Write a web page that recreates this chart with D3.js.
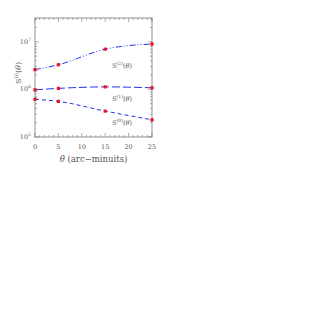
<!DOCTYPE html>
<html>
<head>
<meta charset="utf-8">
<script src="https://cdn.jsdelivr.net/npm/d3@7"></script>
<style>
  body { margin: 0; background: #fff; }
  text { font-family: "DejaVu Serif", "Liberation Serif", serif; fill: #555; }
</style>
</head>
<body>
<svg id="chart" width="327" height="327"></svg>
<script>
// values
var theta = [0, 5, 15, 25];
var s2 = [2.6e6, 3.3e6, 7.0e6, 9.0e6];
var s1 = [0.98e6, 1.05e6, 1.13e6, 1.08e6];
var s0 = [6.2e5, 5.6e5, 3.5e5, 2.3e5];
var seriesNames = ["2", "1", "0"];
var xTicks = [0, 5, 10, 15, 20, 25];
var yTicks = [1e5, 1e6, 1e7];

var svg = d3.select("#chart"),
    margin = {top: 18, left: 35, right: 175, bottom: 190},
    width = 327 - margin.left - margin.right,
    height = 327 - margin.top - margin.bottom,
    g = svg.append("g").attr("transform", "translate(" + margin.left + "," + margin.top + ")");

var x = d3.scaleLinear().domain([0, 25]).range([0, width]);
var y = d3.scaleLog().domain([1e5, Math.pow(10, 7.5)]).range([height, 0]);

var axisColor = "#777";

// frame
g.append("rect")
    .attr("width", width).attr("height", height)
    .attr("fill", "none").attr("stroke", axisColor).attr("stroke-width", 0.8);

// x ticks (bottom and top, inward)
var xMinor = d3.range(0, 26);
g.selectAll(".xt").data(xMinor).enter().append("path")
    .attr("stroke", axisColor).attr("stroke-width", 0.6)
    .attr("d", function(d) {
      var len = d % 5 === 0 ? 4 : 2;
      return "M" + x(d) + "," + height + "v" + (-len) + "M" + x(d) + ",0v" + len;
    });

// y ticks (left and right, inward)
var yMinor = [];
[1e5, 1e6, 1e7].forEach(function(dec) {
  for (var k = 1; k < 10; k++) if (dec * k <= y.domain()[1]) yMinor.push(dec * k);
});
g.selectAll(".yt").data(yMinor).enter().append("path")
    .attr("stroke", axisColor).attr("stroke-width", 0.6)
    .attr("d", function(d) {
      var len = yTicks.indexOf(d) >= 0 ? 4 : 2;
      return "M0," + y(d) + "h" + len + "M" + width + "," + y(d) + "h" + (-len);
    });

// tick labels
g.selectAll(".xl").data(xTicks).enter().append("text")
    .attr("x", function(d) { return x(d); })
    .attr("y", height + 12)
    .attr("text-anchor", "middle")
    .attr("font-size", 6.5)
    .text(function(d) { return d; });

var yl = g.selectAll(".yl").data(yTicks).enter().append("text")
    .attr("x", -4)
    .attr("y", function(d) { return y(d) + 2; })
    .attr("text-anchor", "end")
    .attr("font-size", 6.5);
yl.append("tspan").text("10");
yl.append("tspan").attr("font-size", 4.5).attr("dy", -3)
    .text(function(d) { return Math.round(Math.log10(d)); });

// axis titles
g.append("text")
    .attr("x", width / 2).attr("y", height + 25)
    .attr("text-anchor", "middle").attr("font-size", 8.5)
    .html("<tspan font-style='italic'>θ</tspan> (arc−minuits)");

var yt = g.append("text")
    .attr("transform", "translate(-14," + 55 + ") rotate(-90)")
    .attr("text-anchor", "middle").attr("font-size", 8);
yt.append("tspan").text("S");
yt.append("tspan").attr("font-size", 5).attr("dy", -3).text("(i)");
yt.append("tspan").attr("dy", 3).html("(<tspan font-style='italic'>θ</tspan>)");

// curves
var line = d3.line()
    .x(function(d) { return x(d[0]); })
    .y(function(d) { return y(d[1]); })
    .curve(d3.curveMonotoneX);

var series = [
  {vals: s2, dash: "6,2,1,2,1,2", name: seriesNames[0], lx: 18.6, ly: 6.45},
  {vals: s1, dash: "8,3", name: seriesNames[1], lx: 18.6, ly: 5.76},
  {vals: s0, dash: "4,3", name: seriesNames[2], lx: 18.6, ly: 5.25}
];

series.forEach(function(s) {
  var pts = theta.map(function(t, i) { return [t, s.vals[i]]; });
  g.append("path")
      .datum(pts)
      .attr("fill", "none")
      .attr("stroke", "#2233ee")
      .attr("stroke-width", 1)
      .attr("stroke-dasharray", s.dash)
      .attr("d", line);
  g.selectAll(null).data(pts).enter().append("rect")
      .attr("x", function(d) { return x(d[0]) - 1.6; })
      .attr("y", function(d) { return y(d[1]) - 1.6; })
      .attr("width", 3.2).attr("height", 3.2)
      .attr("fill", "#ee1122");
  var t = g.append("text")
      .attr("x", x(s.lx)).attr("y", y(Math.pow(10, s.ly)))
      .attr("text-anchor", "middle").attr("font-size", 6.5);
  t.append("tspan").text("S");
  t.append("tspan").attr("font-size", 4.5).attr("dy", -3).text("(" + s.name + ")");
  t.append("tspan").attr("dy", 3).html("(<tspan font-style='italic'>θ</tspan>)");
});
</script>
</body>
</html>
